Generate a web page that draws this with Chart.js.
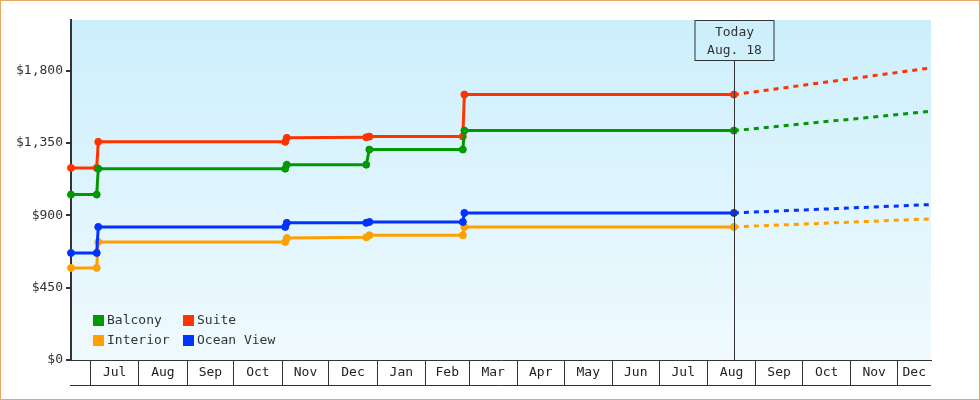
<!DOCTYPE html>
<html>
<head>
<meta charset="utf-8">
<script src="https://cdn.jsdelivr.net/npm/chart.js@4"></script>
<style>
  body { margin: 0; background: #fff; }
  #wrap { width: 978px; height: 398px; border: 1px solid #e8a860; }
</style>
</head>
<body>
<div id="wrap"><canvas id="priceChart" width="978" height="398"></canvas></div>
<script>
// price history (dates as YYYY-MM-DD, half days as YYYY-MM-DDTHH:MM)
const dates = ["2022-06-18T12:00", "2022-07-05", "2022-07-06", "2022-11-03", "2022-11-04",
               "2022-12-25", "2022-12-27", "2023-02-25", "2023-02-26", "2023-08-18"];
const balcony   = [1029, 1029, 1190, 1190, 1215, 1215, 1309, 1309, 1427, 1427];
const suite     = [1195, 1195, 1357, 1357, 1382, 1385, 1390, 1390, 1651, 1651];
const interior  = [573, 573, 734, 734, 759, 763, 776, 776, 828, 828];
const oceanView = [666, 666, 828, 828, 853, 853, 859, 859, 915, 915];

// projection after today
const forecastDates = ["2023-08-18", "2023-12-22T12:00"];
const balconyForecast   = [1427, 1547];
const suiteForecast     = [1651, 1817];
const interiorForecast  = [828, 878];
const oceanViewForecast = [915, 967];

const xMin = "2022-06-18T12:00";
const xMax = "2023-12-22T12:00";
const today = "2023-08-18";
const todayLines = ["Today", "Aug. 18"];

const monthStarts = ["2022-07-01", "2022-08-01", "2022-09-01", "2022-10-01", "2022-11-01", "2022-12-01",
                     "2023-01-01", "2023-02-01", "2023-03-01", "2023-04-01", "2023-05-01", "2023-06-01",
                     "2023-07-01", "2023-08-01", "2023-09-01", "2023-10-01", "2023-11-01", "2023-12-01"];
const monthLabels = ["Jul", "Aug", "Sep", "Oct", "Nov", "Dec", "Jan", "Feb", "Mar", "Apr", "May", "Jun",
                     "Jul", "Aug", "Sep", "Oct", "Nov", "Dec"];
const yTicks = [0, 450, 900, 1350, 1800];
const yMax = 2115;

const legendRows = [["Balcony", "Suite"], ["Interior", "Ocean View"]];
const colors = { "Balcony": "#009900", "Suite": "#ff3300", "Interior": "#ffa000", "Ocean View": "#0033ff" };

const FONT = "'DejaVu Sans Mono', monospace";

function toDay(s) {
    let iso = s.length === 10 ? s + "T00:00:00Z" : s + ":00Z";
    return Date.parse(iso) / 86400000;
}

function points(ds, vals) {
    return ds.map((d, i) => ({ x: toDay(d), y: vals[i] }));
}

function solid(label, vals) {
    return {
        label: label,
        data: points(dates, vals),
        borderColor: colors[label],
        backgroundColor: colors[label],
        borderWidth: 3,
        pointRadius: 3.5,
        pointBorderWidth: 1,
        tension: 0,
        clip: false
    };
}

function dashed(label, vals) {
    return {
        label: label + " forecast",
        data: points(forecastDates, vals),
        borderColor: colors[label],
        borderWidth: 3,
        borderDash: [5, 5],
        pointRadius: 0,
        tension: 0,
        clip: false
    };
}

const chartDecor = {
    id: "chartDecor",
    beforeDraw(chart) {
        const { ctx, chartArea: a } = chart;
        let g = ctx.createLinearGradient(0, a.top, 0, a.bottom);
        g.addColorStop(0, "#cceffc");
        g.addColorStop(1, "#f0fafe");
        ctx.save();
        ctx.fillStyle = g;
        ctx.fillRect(a.left, a.top, a.right - a.left, a.bottom - a.top);
        ctx.restore();
    },
    afterDraw(chart) {
        const { ctx, chartArea: a } = chart;
        const xs = chart.scales.x;
        ctx.save();
        ctx.font = "13px " + FONT;
        ctx.fillStyle = "#222";
        ctx.textAlign = "center";
        ctx.textBaseline = "middle";

        // month names centred in their boxes
        xs.ticks.forEach((t, i) => {
            let x0 = xs.getPixelForValue(t.value);
            let x1 = i + 1 < xs.ticks.length ? xs.getPixelForValue(xs.ticks[i + 1].value) : a.right;
            if (x1 - x0 > 25) ctx.fillText(monthLabels[i], (x0 + x1) / 2, a.bottom + 13);
        });

        // bottom line of the month boxes
        ctx.strokeStyle = "#333";
        ctx.lineWidth = 1;
        ctx.beginPath();
        ctx.moveTo(a.left - 1, a.bottom + 25.5);
        ctx.lineTo(a.right, a.bottom + 25.5);
        ctx.stroke();

        // today marker
        let tx = Math.round(xs.getPixelForValue(toDay(today))) + 0.5;
        let boxTop = a.top + 0.5, boxH = 40, boxW = 79;
        ctx.strokeRect(tx - boxW / 2, boxTop, boxW, boxH);
        ctx.beginPath();
        ctx.moveTo(tx, boxTop + boxH);
        ctx.lineTo(tx, a.bottom);
        ctx.stroke();
        ctx.fillStyle = "#333";
        ctx.fillText(todayLines[0], tx, a.top + 12.5);
        ctx.fillText(todayLines[1], tx, a.top + 30.5);

        // legend inside the plot, bottom left
        ctx.textAlign = "left";
        legendRows.forEach((row, r) => {
            row.forEach((name, c) => {
                let x = a.left + 22 + c * 90;
                let y = a.bottom - 45 + r * 20;
                ctx.fillStyle = colors[name];
                ctx.fillRect(x, y, 11, 11);
                ctx.fillStyle = "#333";
                ctx.fillText(name, x + 14, y + 6);
            });
        });
        ctx.restore();
    }
};

new Chart(document.getElementById("priceChart"), {
    type: "line",
    data: {
        datasets: [
            solid("Balcony", balcony),
            solid("Suite", suite),
            solid("Ocean View", oceanView),
            solid("Interior", interior),
            dashed("Balcony", balconyForecast),
            dashed("Suite", suiteForecast),
            dashed("Ocean View", oceanViewForecast),
            dashed("Interior", interiorForecast)
        ]
    },
    options: {
        responsive: false,
        animation: false,
        layout: { padding: { top: 19, right: 48, left: 0, bottom: 0 } },
        plugins: {
            legend: { display: false },
            tooltip: { enabled: false }
        },
        scales: {
            x: {
                type: "linear",
                min: toDay(xMin),
                max: toDay(xMax),
                afterBuildTicks: (axis) => { axis.ticks = monthStarts.map(d => ({ value: toDay(d) })); },
                afterFit: (axis) => { axis.height = 39; },
                ticks: { display: false },
                grid: { drawOnChartArea: false, drawTicks: true, tickLength: 25, color: "#333", lineWidth: 1 },
                border: { display: true, color: "#333", width: 1 }
            },
            y: {
                min: 0,
                max: yMax,
                afterBuildTicks: (axis) => { axis.ticks = yTicks.map(v => ({ value: v })); },
                afterFit: (axis) => { axis.width = 70; },
                ticks: {
                    callback: (v) => "$" + v.toLocaleString("en-US"),
                    font: { family: FONT, size: 13 },
                    color: "#333",
                    padding: 3
                },
                grid: { drawOnChartArea: false, tickLength: 5, color: "#333", lineWidth: 2 },
                border: { color: "#333", width: 2 }
            }
        }
    },
    plugins: [chartDecor]
});
</script>
</body>
</html>
